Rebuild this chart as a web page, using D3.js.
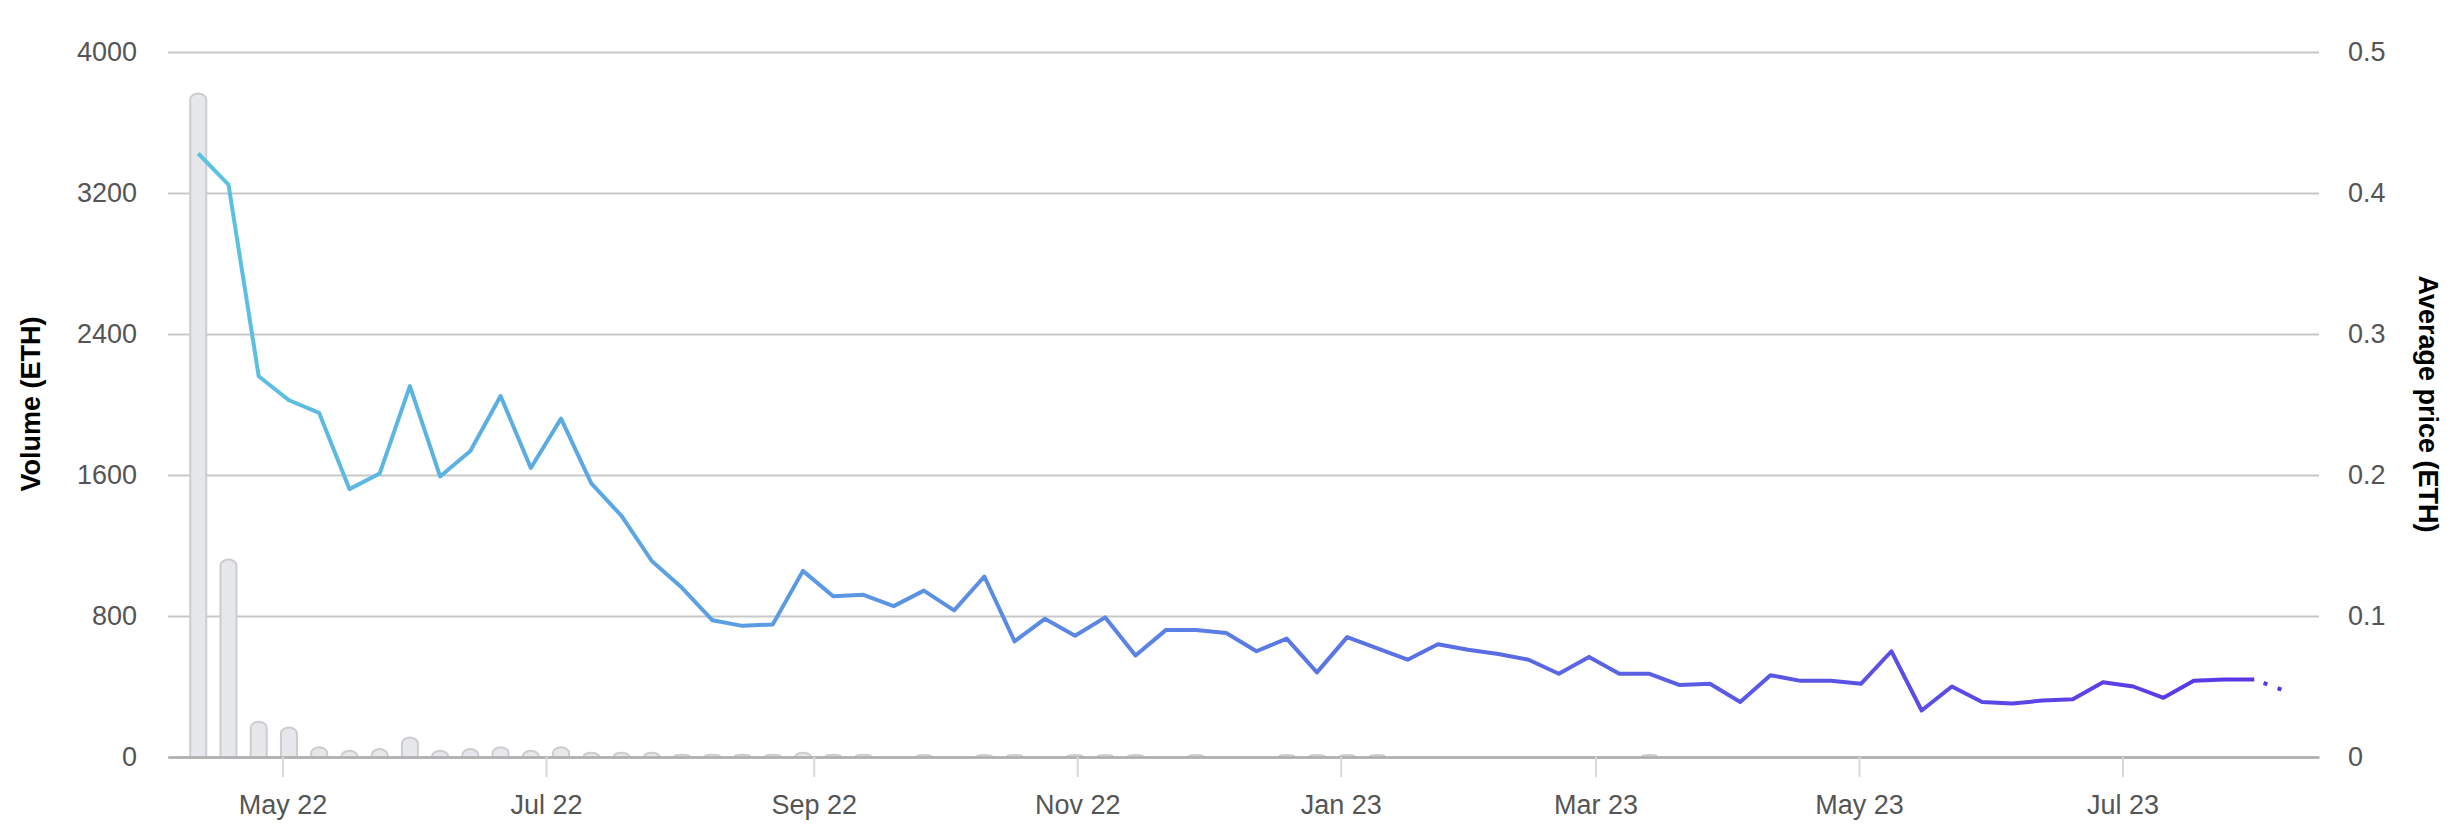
<!DOCTYPE html>
<meta charset="utf-8">
<style>
body { margin: 0; background: #fff; }
text { font-family: "Liberation Sans", Arial, sans-serif; }
.tick text { font-size: 27px; fill: #555; }
.grid line { stroke: #c8c8c8; stroke-width: 2px; }
.axis-title { font-size: 27px; font-weight: bold; fill: #000; }
</style>
<body>
<svg width="2464" height="839"></svg>
<script src="https://d3js.org/d3.v7.min.js"></script>
<script>

// weekly data points
var weeks = [
  "2022-04-11","2022-04-18","2022-04-25","2022-05-02","2022-05-09","2022-05-16","2022-05-23","2022-05-30",
  "2022-06-06","2022-06-13","2022-06-20","2022-06-27","2022-07-04","2022-07-11","2022-07-18","2022-07-25",
  "2022-08-01","2022-08-08","2022-08-15","2022-08-22","2022-08-29","2022-09-05","2022-09-12","2022-09-19",
  "2022-09-26","2022-10-03","2022-10-10","2022-10-17","2022-10-24","2022-10-31","2022-11-07","2022-11-14",
  "2022-11-21","2022-11-28","2022-12-05","2022-12-12","2022-12-19","2022-12-26","2023-01-02","2023-01-09",
  "2023-01-16","2023-01-23","2023-01-30","2023-02-06","2023-02-13","2023-02-20","2023-02-27","2023-03-06",
  "2023-03-13","2023-03-20","2023-03-27","2023-04-03","2023-04-10","2023-04-17","2023-04-24","2023-05-01",
  "2023-05-08","2023-05-15","2023-05-22","2023-05-29","2023-06-05","2023-06-12","2023-06-19","2023-06-26",
  "2023-07-03","2023-07-10","2023-07-17","2023-07-24","2023-07-31","2023-08-07"
];

var volume = [
  3765, 1120, 200, 167, 55, 36, 45, 110, 36, 45, 55, 36, 55, 24, 24, 24,
  13, 13, 13, 13, 24, 13, 13, 0, 10, 0, 10, 9, 0, 9, 9, 9,
  0, 9, 0, 0, 9, 9, 9, 9, 0, 0, 0, 0, 0, 0, 0, 0,
  9, 0, 0, 0, 0, 0, 0, 0, 0, 0, 0, 0, 0, 0, 0, 0,
  0, 0, 0, 0, 0, 0
];

var price = [
  0.428, 0.406, 0.270, 0.253, 0.244, 0.190, 0.201, 0.263, 0.199, 0.217, 0.256, 0.205, 0.240, 0.194, 0.171, 0.139,
  0.120, 0.097, 0.093, 0.094, 0.132, 0.114, 0.115, 0.107, 0.118, 0.104, 0.128, 0.082, 0.098, 0.086, 0.099, 0.072,
  0.090, 0.090, 0.088, 0.075, 0.084, 0.060, 0.085, 0.077, 0.069, 0.080, 0.076, 0.073, 0.069, 0.059, 0.071, 0.059,
  0.059, 0.051, 0.052, 0.039, 0.058, 0.054, 0.054, 0.052, 0.075, 0.033, 0.050, 0.039, 0.038, 0.040, 0.041, 0.053,
  0.050, 0.042, 0.054, 0.055, 0.055, 0.047
];

var volumeTicks = [0, 800, 1600, 2400, 3200, 4000];
var priceTicks = [0, 0.1, 0.2, 0.3, 0.4, 0.5];
var xDomain = ["2022-04-04T12:00", "2023-08-15T12:00"];

var svg = d3.select("svg");
var plotLeft = 168, plotRight = 2319, plotTop = 52, plotBottom = 757;

var parseHour = d3.utcParse("%Y-%m-%dT%H:%M");

// points sit at midday of each week's first day
var data = weeks.map(function(w, i) {
  return { date: parseHour(w + "T12:00"), volume: volume[i], price: price[i] };
});

var x = d3.scaleUtc()
  .domain(xDomain.map(parseHour))
  .range([plotLeft, plotRight]);

var yVol = d3.scaleLinear().domain([0, 4000]).range([plotBottom, plotTop]);
var yPrice = d3.scaleLinear().domain([0, 0.5]).range([plotBottom, plotTop]);

// left axis + grid
var gLeft = svg.append("g")
  .attr("class", "grid")
  .attr("transform", "translate(" + plotLeft + ",0)")
  .call(d3.axisLeft(yVol).tickValues(volumeTicks).tickSize(-(plotRight - plotLeft)).tickPadding(31).tickFormat(d3.format("d")));
gLeft.select(".domain").remove();

// right axis
var gRight = svg.append("g")
  .attr("transform", "translate(" + plotRight + ",0)")
  .call(d3.axisRight(yPrice).tickValues(priceTicks).tickSize(0).tickPadding(29).tickFormat(function(d) { return d === 0 ? "0" : d3.format(".1f")(d); }));
gRight.select(".domain").remove();

// bars with round tops
var barW = 16;
svg.append("g")
  .selectAll("path")
  .data(data.filter(function(d) { return d.volume > 0; }))
  .enter().append("path")
  .attr("fill", "#e6e7eb")
  .attr("stroke", "#cdcdd0")
  .attr("stroke-width", 2)
  .attr("d", function(d) {
    var cx = x(d.date);
    var x0 = cx - barW / 2, x1 = cx + barW / 2;
    var y0 = yVol(0), yt = yVol(d.volume);
    var h = Math.max(y0 - yt, 2);
    yt = y0 - h;
    var ry = Math.min(6, h);
    return "M" + x0 + "," + y0 + "L" + x0 + "," + (yt + ry) +
      "A" + (barW / 2) + "," + ry + " 0 0 1 " + x1 + "," + (yt + ry) +
      "L" + x1 + "," + y0;
  });

// x axis
var gX = svg.append("g")
  .attr("transform", "translate(0," + plotBottom + ")")
  .call(d3.axisBottom(x).ticks(d3.utcMonth.every(2)).tickFormat(d3.utcFormat("%b %y")).tickSize(20).tickSizeOuter(0).tickPadding(18));
gX.select(".domain").attr("stroke", "#acacac").attr("stroke-width", 2.5);
gX.selectAll(".tick line").attr("stroke", "#d9d9d9").attr("stroke-width", 2);

// price line
var grad = svg.append("defs").append("linearGradient")
  .attr("id", "lineGrad")
  .attr("gradientUnits", "userSpaceOnUse")
  .attr("x1", x(data[0].date)).attr("x2", x(data[data.length - 1].date))
  .attr("y1", 0).attr("y2", 0);
grad.append("stop").attr("offset", "0%").attr("stop-color", "#5bc3e2");
grad.append("stop").attr("offset", "100%").attr("stop-color", "#5a34e6");

var line = d3.line()
  .x(function(d) { return x(d.date); })
  .y(function(d) { return yPrice(d.price); });

svg.append("path")
  .datum(data.slice(0, data.length - 1))
  .attr("fill", "none")
  .attr("stroke", "url(#lineGrad)")
  .attr("stroke-width", 4)
  .attr("stroke-linejoin", "round")
  .attr("d", line);

// last (incomplete) week dotted
svg.append("path")
  .datum(data.slice(data.length - 2))
  .attr("fill", "none")
  .attr("stroke", "#5a36e6")
  .attr("stroke-width", 4)
  .attr("stroke-dasharray", "4,11")
  .attr("stroke-dashoffset", 5)
  .attr("d", line);

// axis titles
svg.append("text")
  .attr("class", "axis-title")
  .attr("transform", "translate(31,404) rotate(-90)")
  .attr("text-anchor", "middle")
  .attr("dominant-baseline", "central")
  .text("Volume (ETH)");

svg.append("text")
  .attr("class", "axis-title")
  .attr("transform", "translate(2428,404) rotate(90)")
  .attr("text-anchor", "middle")
  .attr("dominant-baseline", "central")
  .text("Average price (ETH)");

</script>
</body>
